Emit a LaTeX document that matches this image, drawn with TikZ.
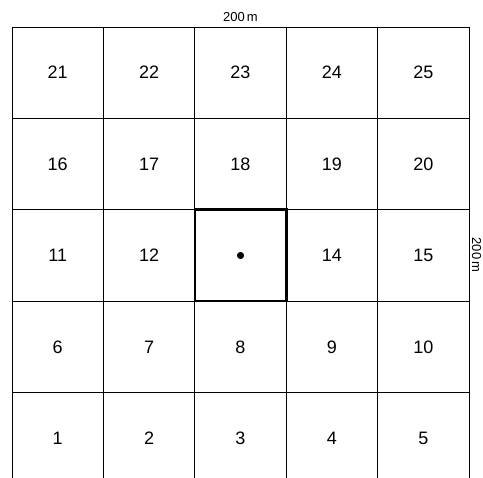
\documentclass[tikz,border=0pt]{standalone}
\usepackage{fontspec}
\setmainfont{Liberation Sans}
\begin{document}
\begin{tikzpicture}[x=1pt,y=-1pt,
  gridline/.style={line width=0.9pt,black},
  thickbox/.style={line width=2.6pt,black},
  cellnum/.style={font=\fontsize{18}{18}\selectfont,inner sep=0pt},
  dimlabel/.style={font=\fontsize{13}{13}\selectfont,inner sep=0pt}]
\useasboundingbox[fill=white] (0,0) rectangle (483,478);
\def\dx{91.4}
% horizontal lines
\foreach \r in {0,...,4}{
  \draw[gridline] (12,{27+\r*\dx}) -- (469,{27+\r*\dx});
}
% vertical lines
\foreach \c in {0,...,5}{
  \draw[gridline] ({12+\c*\dx},27) -- ({12+\c*\dx},478);
}
% numbers
\foreach \r in {0,...,4}{
  \foreach \c in {1,...,5}{
    \pgfmathtruncatemacro{\n}{(4-\r)*5+\c}
    \ifnum\n=13\relax
      \coordinate (c\n) at ({12+(\c-0.5)*\dx},{27+(\r+0.5)*\dx});
    \else
      \node[cellnum] (c\n) at ({12+(\c-0.5)*\dx},{27+(\r+0.5)*\dx}) {\n};
    \fi
  }
}
% highlighted cell 13
\draw[thickbox] (194.8,209.8) rectangle (286.2,301.2);
\fill (c13) circle (3.6);
% dimension labels
\node[dimlabel] (top) at (240.5,17) {200\,m};
\node[dimlabel,rotate=-90] (side) at (476.5,255) {200\,m};
\end{tikzpicture}
\end{document}
